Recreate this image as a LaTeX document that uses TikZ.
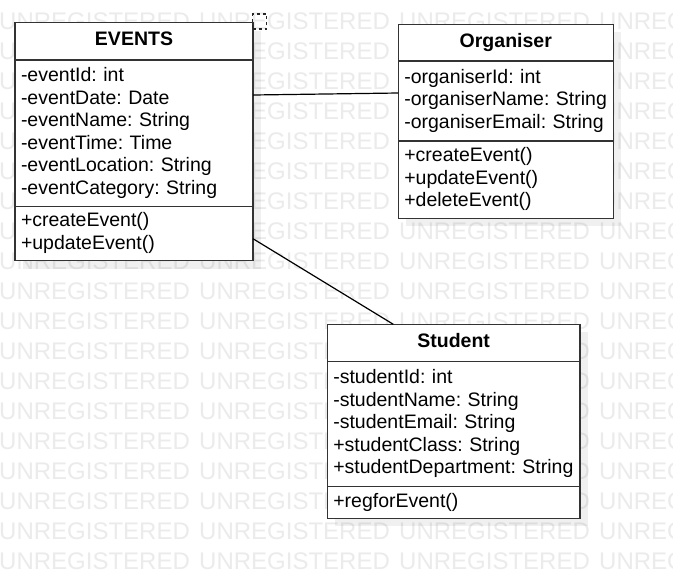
\documentclass[tikz,border=0pt]{standalone}
\usepackage{fontspec}
\setmainfont{Liberation Sans}
\usetikzlibrary{shadows}

\newcommand{\umlfont}{\fontsize{19.5}{22.5}\selectfont\frenchspacing}

\tikzset{
	umlpart/.style={draw=black!80, line width=1.5pt, fill=white, anchor=north west,
		inner xsep=6pt, inner ysep=3pt, outer sep=0pt, text width=#1, align=left,
		font=\umlfont, execute at begin node=\strut, execute at end node=\strut,
		drop shadow={shadow xshift=8pt, shadow yshift=-8pt, fill=black, opacity=.06}},
	umltitle/.style={umlpart=#1, align=center, font=\umlfont\bfseries},
	watermark/.style={anchor=base west, inner sep=0pt, text=black!8, font=\fontsize{24}{24}\selectfont},
	assoc/.style={draw=black, line width=1.2pt},
	handle/.style={draw=black!85, dashed, line width=1.5pt, minimum width=14pt, minimum height=15pt, inner sep=0pt}
}

\begin{document}
\begin{tikzpicture}[x=1pt, y=-1pt]
	\useasboundingbox[fill=white] (0,0) rectangle (673,579);
	% watermark rows
	\foreach \r in {0,...,18}
		\foreach \c in {0,...,3}
			\node[watermark] (wm-\r-\c) at (200*\c-1, 29.3+30*\r) {UNREGISTERED};

	% EVENTS
	\node[umltitle=226pt, minimum height=37.3pt] (evtitle) at (15,22.7) {EVENTS};
	\node[umlpart=226pt, minimum height=146.7pt] (evattr) at (evtitle.south west)
		{-eventId: int\\ -eventDate: Date\\ -eventName: String\\ -eventTime: Time\\ -eventLocation: String\\ -eventCategory: String};
	\node[umlpart=226pt, minimum height=54pt] (evmeth) at (evattr.south west)
		{+createEvent()\\ +updateEvent()};

	% Organiser
	\node[umltitle=203pt, minimum height=36.7pt] (ortitle) at (398.3,24.3) {Organiser};
	\node[umlpart=203pt, minimum height=80pt] (orattr) at (ortitle.south west)
		{-organiserId: int\\ -organiserName: String\\ -organiserEmail: String};
	\node[umlpart=203pt, minimum height=77.3pt] (ormeth) at (orattr.south west)
		{+createEvent()\\ +updateEvent()\\ +deleteEvent()};

	% Student
	\node[umltitle=240.7pt, minimum height=37.4pt] (sttitle) at (327.3,324.3) {Student};
	\node[umlpart=240.7pt, minimum height=125pt] (stattr) at (sttitle.south west)
		{-studentId: int\\ -studentName: String\\ -studentEmail: String\\ +studentClass: String\\ +studentDepartment: String};
	\node[umlpart=240.7pt, minimum height=31.6pt] (stmeth) at (stattr.south west)
		{+regforEvent()};

	\node[handle] (sel) at (259.7,21.5) {};

	% associations
	\draw[assoc] ([yshift=-35pt]evattr.north east) -- ([yshift=-32pt]orattr.north west);
	\draw[assoc] ([yshift=-32pt]evmeth.north east) -- ([xshift=66pt]sttitle.north west);
\end{tikzpicture}
\end{document}
